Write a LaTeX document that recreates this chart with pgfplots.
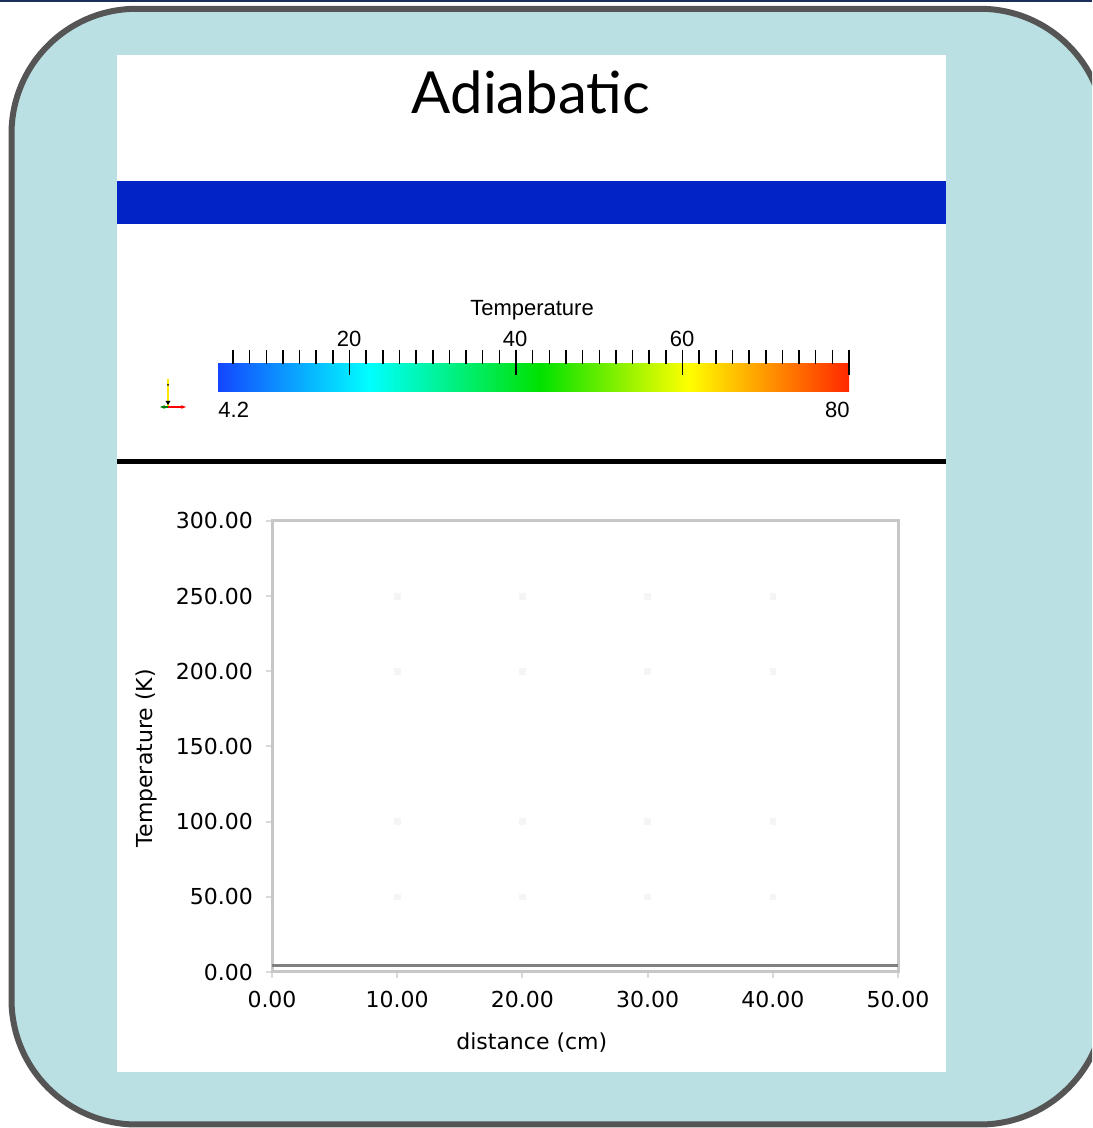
\documentclass[border=0pt]{standalone}
\usepackage{pgfplots}
\pgfplotsset{compat=1.18}
\usetikzlibrary{arrows.meta}
\usepackage{fontspec}
\setmainfont{DejaVu Sans}
\newfontfamily\titlefont{Lato}
\newfontfamily\vtkfont{Liberation Sans}
\definecolor{panelbg}{RGB}{187,224,227}
\definecolor{bordergray}{RGB}{85,85,85}
\definecolor{navyline}{RGB}{28,46,90}
\definecolor{barblue}{RGB}{2,35,198}
\definecolor{cbBlue}{RGB}{20,70,255}
\definecolor{cbCyan}{RGB}{0,255,255}
\definecolor{cbGreen}{RGB}{0,225,0}
\definecolor{cbYellow}{RGB}{255,255,0}
\definecolor{cbRed}{RGB}{255,40,0}
\begin{document}
\begin{tikzpicture}
\useasboundingbox (0,0) rectangle (546pt,564pt);
\clip (0,0) rectangle (546pt,564pt);
\begin{scope}[yshift=564pt, x=0.5pt, y=-0.5pt]
  \fill[navyline] (0,0) rectangle (1092,2);
  \draw[draw=bordergray, line width=3pt, fill=panelbg, rounded corners=62.5pt] (11.5,8.8) rectangle (1105,1124.5);
  \fill[white] (117,55) rectangle (946,1072);
  \node[font=\titlefont\fontsize{29}{32}\selectfont] at (531,92) {Adiabatic};
  \fill[barblue] (117,181) rectangle (946,224);
  % colour bar
  \shade[left color=cbBlue, right color=cbCyan] (218,364) rectangle (369.5,392);
  \shade[left color=cbCyan, right color=cbGreen] (369,364) rectangle (540.5,392);
  \shade[left color=cbGreen, right color=cbYellow] (540,364) rectangle (688.5,392);
  \shade[left color=cbYellow, right color=cbRed] (688,364) rectangle (849,392);
  \foreach \v in {6,8,...,78} {\draw[line width=0.75pt] ({218+(\v-4.2)*8.3245},350) -- ++(0,14);}
  \foreach \v in {20,40,60,80} {\draw[line width=0.75pt] ({218+(\v-4.2)*8.3245},350) -- ++(0,25);}
  \node[font=\vtkfont\fontsize{11}{12}\selectfont] at (532,310) {Temperature};
  \node[font=\vtkfont\fontsize{11}{12}\selectfont] at (349,339) {20};
  \node[font=\vtkfont\fontsize{11}{12}\selectfont] at (515,339) {40};
  \node[font=\vtkfont\fontsize{11}{12}\selectfont] at (682,339) {60};
  \node[font=\vtkfont\fontsize{11}{12}\selectfont, anchor=west, inner sep=0pt] at (218,410) {4.2};
  \node[font=\vtkfont\fontsize{11}{12}\selectfont, anchor=east, inner sep=0pt] at (850,410) {80};
  % axes triad
  \draw[yellow!90!orange, line width=0.6pt] (168,379) -- (168,406);
  \fill[black] (168,385) circle (1);
  \draw[red, line width=0.6pt, -{Stealth[length=2.5pt]}] (168,407) -- (186,407);
  \draw[green!50!black, line width=0.6pt, -{Stealth[length=2.5pt]}] (168,407) -- (160,407);
  \fill[black] (165.5,401) -- (170.5,401) -- (168,405) -- cycle;
  % separator
  \draw[line width=2.5pt] (117,462) -- (946,462);
\end{scope}
\begin{axis}[
  at={(136pt,78pt)}, anchor=south west,
  scale only axis, width=313pt, height=225.5pt,
  xmin=0, xmax=50, ymin=0, ymax=300,
  xtick={0,10,...,50}, ytick={0,50,...,300},
  axis line style={draw=black!22, line width=1.5pt},
  tick style={draw=black!15, line width=1pt},
  major tick length=3pt, tick align=outside,
  xtick pos=bottom, ytick pos=left,
  ticklabel style={font=\fontsize{11}{13}\selectfont, text=black},
  /pgf/number format/fixed, /pgf/number format/fixed zerofill,
  /pgf/number format/precision=2, /pgf/number format/assume math mode=true,
  yticklabel style={xshift=-3pt},
  xticklabel style={yshift=-3pt},
  xlabel={distance (cm)}, ylabel={Temperature (K)},
  label style={font=\fontsize{11}{13}\selectfont, text=black},
  xlabel style={at={(axis description cs:0.415,-0.157)}, anchor=center},
  ylabel style={at={(axis description cs:-0.201,0.474)}, anchor=center},
]
\addplot[only marks, mark=square*, mark size=1.4pt, color=black!4] coordinates {
  (10,50) (20,50) (30,50) (40,50)
  (10,100) (20,100) (30,100) (40,100)
  (10,200) (20,200) (30,200) (40,200)
  (10,250) (20,250) (30,250) (40,250)
};
\addplot[draw=black!50, line width=1.5pt] coordinates {(0,4.2) (50,4.2)};
\end{axis}
\end{tikzpicture}
\end{document}
